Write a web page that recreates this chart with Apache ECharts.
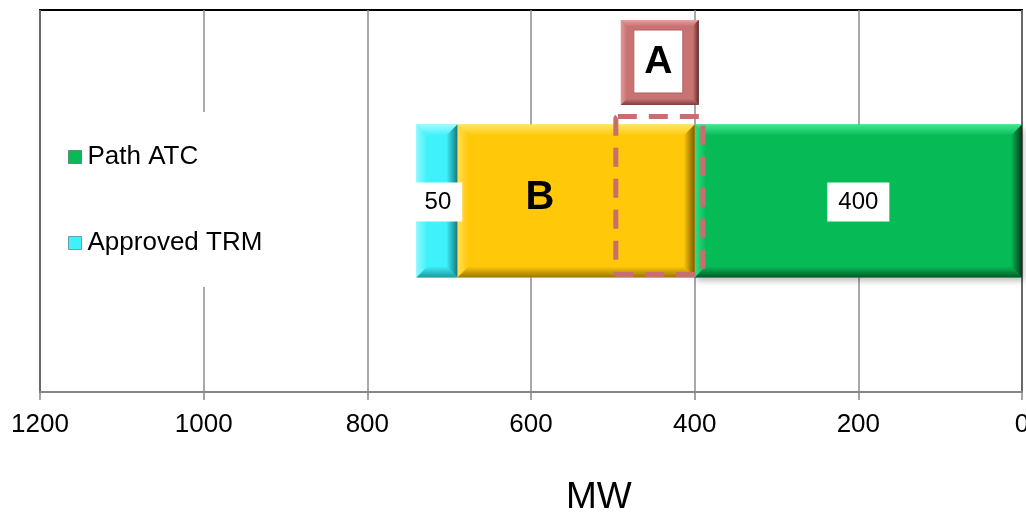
<!DOCTYPE html>
<html>
<head>
<meta charset="utf-8">
<script src="https://cdn.jsdelivr.net/npm/echarts@6/dist/echarts.min.js"></script>
<style>
  html, body { margin: 0; padding: 0; background: #ffffff; }
  #chart { width: 1026px; height: 517px; }
</style>
</head>
<body>
<div id="chart"></div>
<script>
// Categories and values (MW)
const categories = [''];
const pathATC = [400];
const segmentB = [290];
const approvedTRM = [50];
// Highlighted capacity range "A" (from, to) in MW
const zoneA = [500, 390];
// Value axis range and tick step
const axisMin = 0;
const axisMax = 1200;
const axisStep = 200;
const axisTitle = 'MW';

const FONT = '"Liberation Sans", Arial, Helvetica, sans-serif';

const palettes = {
  atc:  { base: '#06BB56', light: '#3FE88F', dark: '#013A18' },
  b:    { base: '#FFC90A', light: '#FFE566', dark: '#7A5A00' },
  trm:  { base: '#3EF1FA', light: '#A0FBFF', dark: '#167A80' },
  rose: { base: '#C97273', light: '#E8A3A3', dark: '#5E2C2C' }
};

// Stack segments in order: Path ATC from 0, then B, then Approved TRM
function stackData(values, below) {
  return values.map((v, i) => {
    const start = below.reduce((s, arr) => s + arr[i], 0);
    return [start, start + v, i, v];
  });
}

function grad(dir, c0, c1) {
  return dir === 'v'
    ? { type: 'linear', x: 0, y: 0, x2: 0, y2: 1, colorStops: [{ offset: 0, color: c0 }, { offset: 1, color: c1 }] }
    : { type: 'linear', x: 0, y: 0, x2: 1, y2: 0, colorStops: [{ offset: 0, color: c0 }, { offset: 1, color: c1 }] };
}

// Beveled rectangle built from a base fill and four edge facets
function bevel(x, y, w, h, pal, b, withShadow) {
  const bl = Math.min(b, w / 2), bt = Math.min(b, h / 2);
  return [
    { type: 'rect', shape: { x, y, width: w, height: h },
      style: withShadow
        ? { fill: pal.base, shadowBlur: 6, shadowOffsetY: 4, shadowOffsetX: 2, shadowColor: 'rgba(0,0,0,0.25)' }
        : { fill: pal.base } },
    { type: 'polygon', shape: { points: [[x, y], [x + w, y], [x + w - bl, y + bt], [x + bl, y + bt]] },
      style: { fill: grad('v', pal.light, pal.base) } },
    { type: 'polygon', shape: { points: [[x, y], [x + bl, y + bt], [x + bl, y + h - bt], [x, y + h]] },
      style: { fill: grad('h', pal.light, pal.base), opacity: 0.8 } },
    { type: 'polygon', shape: { points: [[x + w, y], [x + w, y + h], [x + w - bl, y + h - bt], [x + w - bl, y + bt]] },
      style: { fill: grad('h', pal.base, pal.dark) } },
    { type: 'polygon', shape: { points: [[x, y + h], [x + w, y + h], [x + w - bl, y + h - bt], [x + bl, y + h - bt]] },
      style: { fill: grad('v', pal.base, pal.dark), opacity: 0.75 } }
  ];
}

const BAR_RATIO = 0.4;

function segmentRenderer(pal, labelMode) {
  return function (params, api) {
    const s = api.value(0), e = api.value(1), c = api.value(2), v = api.value(3);
    const p0 = api.coord([s, c]);
    const p1 = api.coord([e, c]);
    const band = api.size([0, 1])[1];
    const h = band * BAR_RATIO;
    const x = Math.min(p0[0], p1[0]);
    const w = Math.abs(p1[0] - p0[0]);
    const y = p0[1] - h / 2;
    const children = bevel(x, y, w, h, pal, 11, labelMode === 'value');
    const cx = x + w / 2, cy = y + h / 2;
    if (labelMode === 'value' || labelMode === 'valueLeft') {
      children.push({
        type: 'text', x: cx + (labelMode === 'valueLeft' ? 1 : 0), y: cy + 1,
        style: { text: String(v), fill: '#000', fontSize: 24, fontFamily: FONT,
                 align: 'center', verticalAlign: 'middle',
                 backgroundColor: '#ffffff', padding: [8, 11, 7, 11] }
      });
    } else if (labelMode === 'name') {
      children.push({
        type: 'text', x: cx - 36, y: cy - 3,
        style: { text: 'B', fill: '#000', fontSize: 40, fontWeight: 'bold', fontFamily: FONT,
                 align: 'center', verticalAlign: 'middle' }
      });
    }
    return { type: 'group', children };
  };
}

function zoneRenderer(params, api) {
  const p0 = api.coord([api.value(0), api.value(2)]);
  const p1 = api.coord([api.value(1), api.value(2)]);
  const band = api.size([0, 1])[1];
  const h = band * BAR_RATIO;
  const barTop = p0[1] - h / 2;
  const barBottom = p0[1] + h / 2;
  const bandTop = p0[1] - band / 2;
  const x0 = Math.min(p0[0], p1[0]), x1 = Math.max(p0[0], p1[0]);
  const cx = (x0 + x1) / 2;
  const children = [];
  // dashed outline of the range
  children.push({
    type: 'rect',
    shape: { x: x0 + 3, y: barTop - 8, width: x1 - x0 - 3, height: barBottom - barTop + 5, r: 2 },
    style: { fill: null, stroke: '#C96E6F', lineWidth: 5, lineDash: [19, 12] }
  });
  // framed "A" tag above the range
  const fw = 78, fh = 85;
  const fx = cx - fw / 2 + 2, fy = bandTop + 10;
  children.push(...bevel(fx, fy, fw, fh, palettes.rose, 6, false));
  children.push({ type: 'rect', shape: { x: fx + 13, y: fy + 10, width: fw - 29, height: fh - 22 },
                  style: { fill: '#ffffff', stroke: '#B25E5F', lineWidth: 1 } });
  children.push({
    type: 'text', x: fx + 13 + (fw - 29) / 2, y: fy + 10 + (fh - 22) / 2 + 1,
    style: { text: 'A', fill: '#000', fontSize: 39, fontWeight: 'bold', fontFamily: FONT,
             align: 'center', verticalAlign: 'middle' }
  });
  return { type: 'group', children };
}

const chart = echarts.init(document.getElementById('chart'), null, { renderer: 'canvas' });

chart.setOption({
  animation: false,
  backgroundColor: '#ffffff',
  grid: {
    left: 40, right: 4, top: 10, bottom: 125,
    containLabel: false, outerBoundsMode: 'none',
    show: true, borderColor: '#000000', borderWidth: 2
  },
  legend: {
    orient: 'vertical',
    left: 55, top: 112,
    backgroundColor: '#ffffff',
    padding: [32, 14, 31, 13],
    itemGap: 60,
    itemWidth: 13, itemHeight: 13,
    itemStyle: { borderColor: 'rgba(0,0,0,0.35)', borderWidth: 1 },
    textStyle: { fontSize: 26, fontFamily: FONT, color: '#000', padding: [0, 0, 0, 1] },
    data: [
      { name: 'Path ATC', icon: 'rect' },
      { name: 'Approved TRM', icon: 'rect' }
    ]
  },
  xAxis: {
    type: 'value',
    inverse: true,
    min: axisMin, max: axisMax, interval: axisStep,
    axisLine: { show: true, lineStyle: { color: '#868686', width: 2 } },
    axisTick: { show: true, length: 8, lineStyle: { color: '#868686', width: 1.5 } },
    axisLabel: { fontSize: 26, fontFamily: FONT, color: '#000', margin: 20,
                 formatter: (v) => String(v) },
    splitLine: { show: true, lineStyle: { color: '#8C8C8C', width: 1.5 } }
  },
  yAxis: {
    type: 'category',
    data: categories,
    axisLine: { show: false },
    axisTick: { show: false },
    axisLabel: { show: false },
    splitLine: { show: false }
  },
  graphic: [{
    type: 'text', left: 566, top: 479,
    style: { text: axisTitle, fontSize: 37, fontFamily: FONT, fill: '#000' }
  }],
  series: [
    {
      type: 'custom', name: 'Path ATC',
      itemStyle: { color: palettes.atc.base },
      encode: { x: [0, 1], y: 2 },
      renderItem: segmentRenderer(palettes.atc, 'value'),
      data: stackData(pathATC, []), z: 2
    },
    {
      type: 'custom', name: 'B',
      itemStyle: { color: palettes.b.base },
      encode: { x: [0, 1], y: 2 },
      renderItem: segmentRenderer(palettes.b, 'name'),
      data: stackData(segmentB, [pathATC]), z: 2
    },
    {
      type: 'custom', name: 'Approved TRM',
      itemStyle: { color: palettes.trm.base },
      encode: { x: [0, 1], y: 2 },
      renderItem: segmentRenderer(palettes.trm, 'valueLeft'),
      data: stackData(approvedTRM, [pathATC, segmentB]), z: 3
    },
    {
      type: 'custom', name: 'A',
      encode: { x: [0, 1], y: 2 },
      renderItem: zoneRenderer,
      data: [[zoneA[0], zoneA[1], 0]], z: 4
    }
  ]
});
</script>
</body>
</html>
